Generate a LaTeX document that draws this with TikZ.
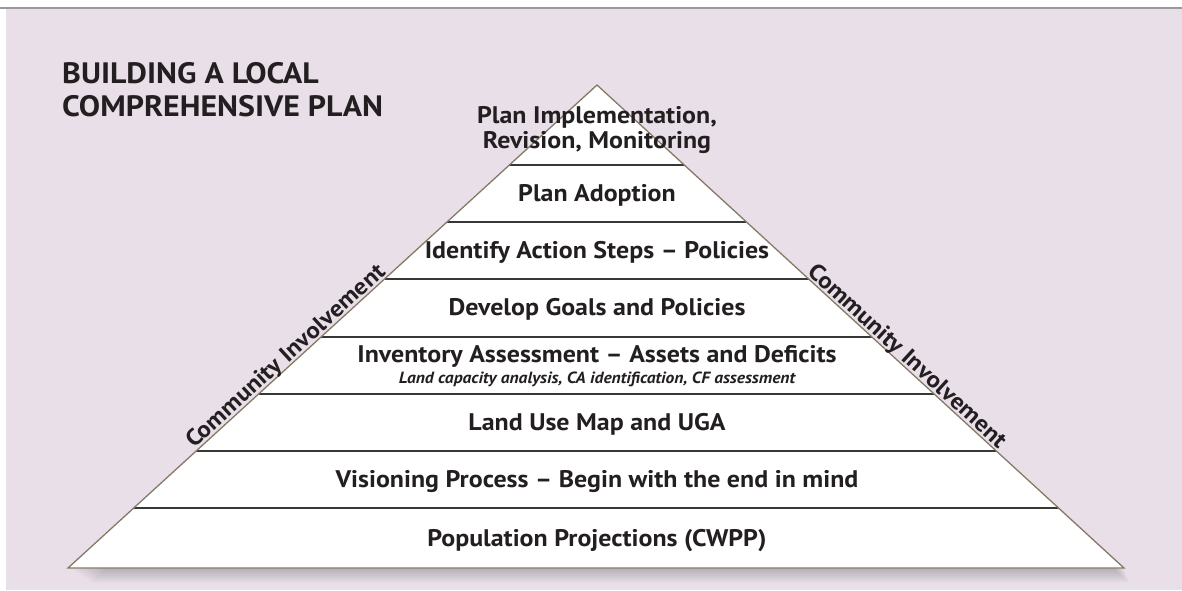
\documentclass[tikz,border=0pt]{standalone}
\usepackage{fontspec}
\setmainfont{PT Sans}[FakeStretch=1.08]
\usetikzlibrary{calc}

\definecolor{bgpink}{RGB}{233,223,233}
\definecolor{ink}{RGB}{35,31,32}
\definecolor{rim}{RGB}{133,123,101}
\definecolor{bandline}{RGB}{55,55,55}

\tikzset{
  band/.style={anchor=base, inner sep=0pt, text=ink, font=\bfseries\fontsize{24}{25}\selectfont},
  subband/.style={anchor=base, inner sep=0pt, text=ink, font=\bfseries\itshape\fontsize{16.2}{18}\selectfont},
  side/.style={sloped, anchor=south, inner sep=0pt, outer sep=-2pt, text=ink, font=\bfseries\fontsize{23.2}{25}\selectfont},
  heading/.style={anchor=north west, align=left, inner sep=0pt, text=ink, font=\bfseries\fontsize{29.5}{33}\selectfont},
}

\begin{document}
\begin{tikzpicture}[x=1pt,y=-1pt]
\useasboundingbox (0,0) rectangle (1182,590);
\fill[white] (0,0) rectangle (1182,590);
\fill[bgpink] (6,9) rectangle (1182,590);
\draw[gray!80, line width=2pt] (0,8) -- (1182,8);

\coordinate (T) at (597,85);
\coordinate (L) at (68,568);
\coordinate (R) at (1124,568);

% soft shadow under the base, just stacked copies
\foreach \k in {1,...,9}
  \fill[black, opacity=0.025] (597+0.6*\k,85+1.6*\k) -- (68+2.6*\k,568+1.6*\k) -- (1124+0.6*\k,568+1.6*\k) -- cycle;

\fill[white] (T) -- (L) -- (R) -- cycle;

\foreach \y in {165,222,279,337,394,451,508}
  \draw[bandline, line width=1.6pt] ($(T)!{(\y-85)/483}!(L)$) -- ($(T)!{(\y-85)/483}!(R)$);

\draw[rim, line width=1.3pt] (T) -- (L) -- (R) -- cycle;

\node[heading] (title) at (62,62) {BUILDING A LOCAL\\COMPREHENSIVE PLAN};

\node[band, anchor=center, align=center] (implement) at (597,130) {Plan Implementation,\\Revision, Monitoring};
\foreach \txt/\y [count=\n] in {Plan Adoption/201,
    Identify Action Steps -- Policies/258,
    Develop Goals and Policies/315,
    Inventory Assessment -- Assets and Deficits/362,
    Land Use Map and UGA/430,
    Visioning Process -- Begin with the end in mind/487,
    Population Projections (CWPP)/546}
  \node[band] (band\n) at (597,\y) {\txt};
\node[subband] (inventorysub) at (597,383) {Land capacity analysis, CA identification, CF assessment};

%\draw[red] (L) -- (T);
\path (L) -- (T) node[side, pos=0.424] (ciLeft) {Community Involvement};
\path (T) -- (R) node[side, pos=0.576] (ciRight) {Community Involvement};
\end{tikzpicture}
\end{document}
